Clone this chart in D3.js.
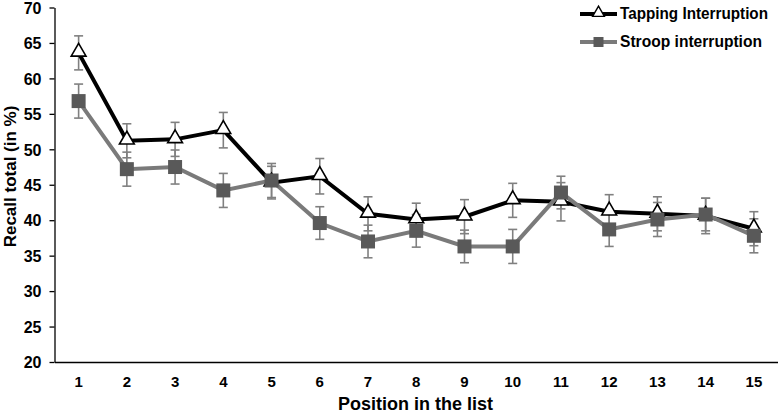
<!DOCTYPE html>
<html>
<head>
<meta charset="utf-8">
<script src="https://cdn.jsdelivr.net/npm/d3@7"></script>
<style>
	body { margin: 0; background: #fff; }
	text { font-family: "Liberation Sans", Arial, sans-serif; font-weight: bold; }
</style>
</head>
<body>
<svg id="chart" width="778" height="413"></svg>
<script>
var positions = [1, 2, 3, 4, 5, 6, 7, 8, 9, 10, 11, 12, 13, 14, 15];
var tapping = [63.6, 51.2, 51.4, 52.7, 45.3, 46.2, 40.9, 40.1, 40.5, 42.8, 42.6, 41.2, 40.9, 40.6, 38.8];
var tappingErr = [2.4, 2.4, 2.4, 2.5, 2.3, 2.5, 2.4, 2.3, 2.4, 2.4, 2.7, 2.4, 2.4, 2.5, 2.4];
var stroop = [56.8, 47.2, 47.5, 44.2, 45.6, 39.6, 37.0, 38.5, 36.3, 36.3, 43.9, 38.7, 40.1, 40.8, 37.8];
var stroopErr = [2.4, 2.4, 2.4, 2.4, 2.4, 2.3, 2.3, 2.3, 2.3, 2.4, 2.3, 2.4, 2.4, 2.3, 2.4];
var yTicks = [20, 25, 30, 35, 40, 45, 50, 55, 60, 65, 70];

var svg = d3.select('#chart');
var margin = {top: 7.5, right: 0, bottom: 51, left: 54.5};
var width = 778 - margin.left - margin.right;
var height = 413 - margin.top - margin.bottom;

var g = svg.append('g').attr('transform', 'translate(' + margin.left + ',' + margin.top + ')');

var x = d3.scaleBand().domain(positions).range([0, width]);
var y = d3.scaleLinear().domain([20, 70]).range([height, 0]);
function cx(d) { return x(d) + x.bandwidth() / 2; }

// axes
var yAxis = g.append('g')
	.call(d3.axisLeft(y).tickValues(yTicks).tickSize(5).tickSizeOuter(0));
yAxis.select('.domain').attr('stroke', '#000').attr('stroke-width', 1.3);
yAxis.selectAll('.tick line').attr('stroke', '#000').attr('stroke-width', 1.3);
yAxis.selectAll('.tick text').attr('font-size', 16).attr('fill', '#000').attr('x', -13).attr('dy', '0.36em');

var xAxis = g.append('g')
	.attr('transform', 'translate(0,' + height + ')')
	.call(d3.axisBottom(x).tickSize(0).tickSizeOuter(0));
xAxis.select('.domain').attr('stroke', '#000').attr('stroke-width', 1.3);
xAxis.selectAll('.tick text').attr('font-size', 15).attr('fill', '#000').attr('dy', '0').attr('y', 25);

svg.append('text')
	.attr('transform', 'translate(15.5,176.5) rotate(-90)')
	.attr('text-anchor', 'middle')
	.attr('font-size', 17)
	.text('Recall total (in %)');

svg.append('text')
	.attr('x', 415.5)
	.attr('y', 410)
	.attr('text-anchor', 'middle')
	.attr('font-size', 18)
	.text('Position in the list');

// error bars
function errorBars(vals, errs) {
	var eb = g.append('g').attr('stroke', '#808080').attr('stroke-width', 1.6).attr('fill', 'none');
	vals.forEach(function(v, i) {
		var px = cx(positions[i]);
		eb.append('line').attr('x1', px).attr('x2', px).attr('y1', y(v + errs[i])).attr('y2', y(v - errs[i]));
		eb.append('line').attr('x1', px - 4.5).attr('x2', px + 4.5).attr('y1', y(v + errs[i])).attr('y2', y(v + errs[i]));
		eb.append('line').attr('x1', px - 4.5).attr('x2', px + 4.5).attr('y1', y(v - errs[i])).attr('y2', y(v - errs[i]));
	});
}
errorBars(tapping, tappingErr);
errorBars(stroop, stroopErr);

var line = d3.line().x(function(d, i) { return cx(positions[i]); }).y(function(d) { return y(d); });

g.append('path').datum(tapping)
	.attr('d', line).attr('fill', 'none').attr('stroke', '#000').attr('stroke-width', 4);

var tri = d3.symbol().type(d3.symbolTriangle).size(95);
g.selectAll('.tri').data(tapping).enter().append('path')
	.attr('class', 'tri')
	.attr('d', tri)
	.attr('transform', function(d, i) { return 'translate(' + cx(positions[i]) + ',' + (y(d) - 1) + ')'; })
	.attr('fill', '#fff').attr('stroke', '#000').attr('stroke-width', 1.6);

g.append('path').datum(stroop)
	.attr('d', line).attr('fill', 'none').attr('stroke', '#7a7a7a').attr('stroke-width', 4);

g.selectAll('.sq').data(stroop).enter().append('rect')
	.attr('class', 'sq')
	.attr('x', function(d, i) { return cx(positions[i]) - 7; })
	.attr('y', function(d) { return y(d) - 7; })
	.attr('width', 14).attr('height', 14)
	.attr('fill', '#595959');

// legend
var legend = svg.append('g').attr('transform', 'translate(580,0)');
legend.append('line').attr('x1', 0).attr('x2', 37).attr('y1', 14).attr('y2', 14)
	.attr('stroke', '#000').attr('stroke-width', 4);
legend.append('path').attr('d', d3.symbol().type(d3.symbolTriangle).size(60))
	.attr('transform', 'translate(18.5,13)')
	.attr('fill', '#fff').attr('stroke', '#000').attr('stroke-width', 1.4);
legend.append('text').attr('x', 40).attr('y', 19).attr('font-size', 16)
	.attr('textLength', 148).attr('lengthAdjust', 'spacingAndGlyphs')
	.text('Tapping Interruption');

legend.append('line').attr('x1', 0).attr('x2', 37).attr('y1', 42).attr('y2', 42)
	.attr('stroke', '#7a7a7a').attr('stroke-width', 4);
legend.append('rect').attr('x', 13.5).attr('y', 37).attr('width', 10).attr('height', 10).attr('fill', '#595959');
legend.append('text').attr('x', 40).attr('y', 46.5).attr('font-size', 16)
	.attr('textLength', 142).attr('lengthAdjust', 'spacingAndGlyphs')
	.text('Stroop interruption');
</script>
</body>
</html>
